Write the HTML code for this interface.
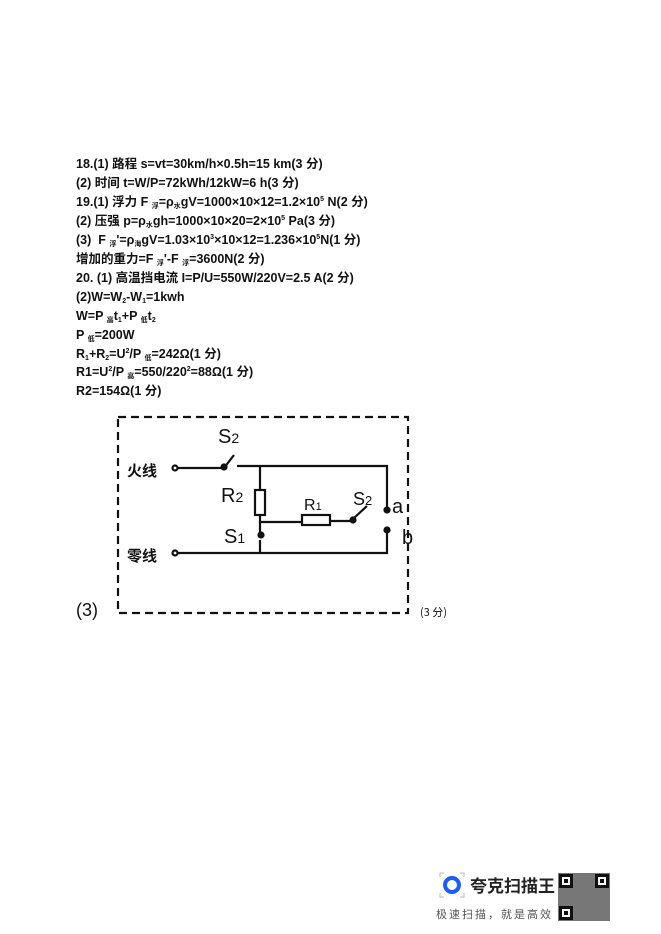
<!DOCTYPE html>
<html><head><meta charset="utf-8"><style>
body{margin:0;width:661px;height:934px;background:#fff;position:relative;overflow:hidden;font-family:"Liberation Sans","Noto Sans CJK SC",sans-serif;}
.t{position:absolute;left:76px;font-size:12.5px;font-weight:bold;color:#111;white-space:nowrap;line-height:15px;height:15px}
sub,sup{line-height:0;font-size:7px}
sub{vertical-align:-2px}sup{vertical-align:5px}
</style></head><body>
<div class="t" style="top:157px">18.(1) 路程 s=vt=30km/h×0.5h=15 km(3 分)</div>
<div class="t" style="top:176px">(2) 时间 t=W/P=72kWh/12kW=6 h(3 分)</div>
<div class="t" style="top:195px">19.(1) 浮力 F <sub>浮</sub>=ρ<sub>水</sub>gV=1000×10×12=1.2×10<sup>5</sup> N(2 分)</div>
<div class="t" style="top:214px">(2) 压强 p=ρ<sub>水</sub>gh=1000×10×20=2×10<sup>5</sup> Pa(3 分)</div>
<div class="t" style="top:233px">(3)&nbsp; F <sub>浮</sub>'=ρ<sub>海</sub>gV=1.03×10<sup>3</sup>×10×12=1.236×10<sup>5</sup>N(1 分)</div>
<div class="t" style="top:252px">增加的重力=F <sub>浮</sub>'-F <sub>浮</sub>=3600N(2 分)</div>
<div class="t" style="top:271px">20. (1) 高温挡电流 I=P/U=550W/220V=2.5 A(2 分)</div>
<div class="t" style="top:290px">(2)W=W<sub>2</sub>-W<sub>1</sub>=1kwh</div>
<div class="t" style="top:309px">W=P <sub>高</sub>t<sub>1</sub>+P <sub>低</sub>t<sub>2</sub></div>
<div class="t" style="top:328px">P <sub>低</sub>=200W</div>
<div class="t" style="top:347px">R<sub>1</sub>+R<sub>2</sub>=U<sup>2</sup>/P <sub>低</sub>=242Ω(1 分)</div>
<div class="t" style="top:365px">R1=U<sup>2</sup>/P <sub>高</sub>=550/220<sup>2</sup>=88Ω(1 分)</div>
<div class="t" style="top:384px">R2=154Ω(1 分)</div>
<svg width="661" height="934" style="position:absolute;left:0;top:0" fill="none" stroke="#111" stroke-width="2.2">
<rect x="118" y="417" width="290" height="196" stroke-dasharray="8 5"/>
<text x="127" y="476" font-size="15" font-weight="bold" fill="#111" stroke="none" font-family="Noto Sans CJK SC,sans-serif">火线</text>
<text x="127" y="561" font-size="15" font-weight="bold" fill="#111" stroke="none" font-family="Noto Sans CJK SC,sans-serif">零线</text>
<circle cx="175" cy="468" r="2.5"/><circle cx="175" cy="553" r="2.5"/>
<path d="M178 468H224M224 468L234 455M237 466H387V508"/>
<circle cx="224" cy="467" r="2.5" fill="#111"/>
<path d="M260 466V490M260 515V533M260 522H302M330 521H352M354 518L367 506M260 540V553M178 553H387V530"/>
<rect x="255" y="490" width="10" height="25"/>
<rect x="302" y="515" width="28" height="10"/>
<circle cx="353" cy="520" r="2.5" fill="#111"/><circle cx="387" cy="510" r="2.5" fill="#111"/><circle cx="387" cy="530" r="2.5" fill="#111"/><circle cx="261" cy="535" r="2.5" fill="#111"/>
<g fill="#111" stroke="none" font-family="Liberation Sans,sans-serif" font-size="20">
<text x="218" y="443">S<tspan font-size="14">2</tspan></text>
<text x="221" y="502">R<tspan font-size="14">2</tspan></text>
<text x="304" y="510" font-size="16">R<tspan font-size="11">1</tspan></text>
<text x="353" y="505" font-size="18">S<tspan font-size="13">2</tspan></text>
<text x="224" y="543">S<tspan font-size="14">1</tspan></text>
<text x="392" y="513">a</text><text x="402" y="544">b</text>
<text x="76" y="616" font-size="18">(3)</text>
<text x="420" y="616" font-size="11" font-family="Noto Sans CJK SC,sans-serif">(3 分)</text>
</g>
<circle cx="452" cy="885" r="7" stroke="#1a5cff" stroke-width="4"/>
<path d="M440 877v-4h4M464 877v-4h-4M440 893v4h4M464 893v4h-4" stroke="#bbb" stroke-width="1"/>
<text x="470" y="892" font-size="17" font-weight="bold" fill="#222" stroke="none" font-family="Noto Sans CJK SC,sans-serif">夸克扫描王</text>
<text x="436" y="918" font-size="11" fill="#555" stroke="none" letter-spacing="2" font-family="Noto Sans CJK SC,sans-serif">极速扫描，就是高效</text>
<g stroke="none" fill="#111">
<rect x="558" y="873" width="52" height="48" fill="#777"/>
<rect x="559" y="874" width="14" height="14" fill="#111"/><rect x="562" y="877" width="8" height="8" fill="#fff"/><rect x="564" y="879" width="4" height="4"/>
<rect x="595" y="874" width="14" height="14"/><rect x="598" y="877" width="8" height="8" fill="#fff"/><rect x="600" y="879" width="4" height="4"/>
<rect x="559" y="906" width="14" height="14"/><rect x="562" y="909" width="8" height="8" fill="#fff"/><rect x="564" y="911" width="4" height="4"/>
</g>
</svg>
</body></html>
